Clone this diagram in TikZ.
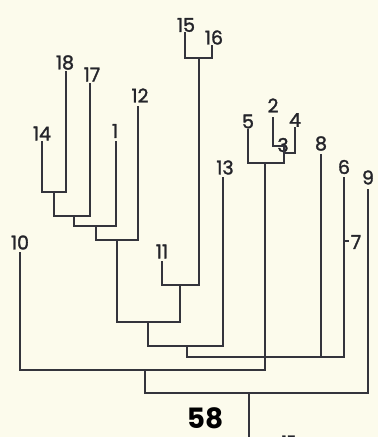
\documentclass[tikz,border=0pt]{standalone}
\usepackage{fontspec}
\setmainfont{Poppins}
\newfontfamily\labfont[FakeBold=1.6]{Poppins}
\definecolor{paper}{RGB}{252,251,236}
\definecolor{ink}{RGB}{52,52,60}
\begin{document}
\begin{tikzpicture}[x=1pt,y=-1pt,
  branch/.style={draw=ink,line width=2pt,line cap=rect},
  lab/.style={inner sep=0pt,text=ink!70!black,font=\labfont\fontsize{19}{19}\selectfont},
  biglab/.style={inner sep=0pt,text=black,font=\fontsize{28}{28}\selectfont\bfseries}]
\fill[paper] (0,0) rectangle (378,437);
\useasboundingbox (0,0) rectangle (378,437);
% leaf tops
\coordinate (t14) at (42,142);
\coordinate (t18) at (66,72);
\coordinate (t17) at (90,84);
\coordinate (t1) at (116,142);
\coordinate (t12) at (138,107);
\coordinate (t15) at (185,33);
\coordinate (t16) at (212,46);
\coordinate (t11) at (162,262);
\coordinate (t13) at (223,178);
\coordinate (t5) at (248,130);
\coordinate (t2) at (273,118);
\coordinate (t4) at (295,128);
\coordinate (t8) at (321,155);
\coordinate (t6) at (344,178);
\coordinate (t9) at (368,190);
\coordinate (t10) at (20,253);
% junctions
\coordinate (n1) at (54,192);
\coordinate (n2) at (74,216);
\coordinate (n3) at (96,226);
\coordinate (n4) at (117,240);
\coordinate (n5) at (199,58);
\coordinate (n6) at (180,285);
\coordinate (n7) at (148,322);
\coordinate (n8) at (187,346);
\coordinate (n9) at (284,146);
\coordinate (n10) at (284,153);
\coordinate (n11) at (284,163);
\coordinate (n12) at (265,163);
\coordinate (n13) at (265,357);
\coordinate (n15) at (265,370);
\coordinate (n16) at (145,370);
\coordinate (n17) at (249,393);
\coordinate (rootend) at (249,440);
\coordinate (tick7) at (348,241);
% labels
\node[lab] (L14) at (42,133.5) {14};
\node[lab] (L18) at (65,62.5) {18};
\node[lab] (L17) at (92,74.5) {17};
\node[lab] (L1) at (115,131) {1};
\node[lab] (L12) at (140,95.5) {12};
\node[lab] (L15) at (186,25) {15};
\node[lab] (L16) at (214,37.5) {16};
\node[lab] (L13) at (225,167.5) {13};
\node[lab] (L5) at (248,121.5) {5};
\node[lab] (L2) at (273,105.5) {2};
\node[lab] (L4) at (295,120) {4};
\node[lab] (L3) at (283,145) {3};
\node[lab] (L8) at (321,143.5) {8};
\node[lab] (L6) at (344,167) {6};
\node[lab] (L9) at (368,177.5) {9};
\node[lab] (L10) at (20,242.5) {10};
\node[lab] (L11) at (162,251.5) {11};
\node[lab] (L7) at (356,242) {7};
\node[biglab] (L58) at (205,418) {58};
\node[lab,font=\labfont\fontsize{15}{15}\selectfont] (Lb15) at (289,441) {15};
% branches
\draw[branch] (t14) |- (n1) -| (t18);
\draw[branch] (n1) |- (n2) -| (t17);
\draw[branch] (n2) |- (n3) -| (t1);
\draw[branch] (n3) |- (n4) -| (t12);
\draw[branch] (t15) |- (n5) -| (t16);
\draw[branch] (t11) |- (n6) -| (n5);
\draw[branch] (n4) |- (n7) -| (n6);
\draw[branch] (n7) |- (n8) -| (t13);
\draw[branch] (t2) |- (n9) -- (n11);
\draw[branch] (n10) -| (t4);
\draw[branch] (t5) |- (n11);
\draw[branch] (n12) -- (n15);
\draw[branch] (n8) |- (n13) -| (t6);
\draw[branch] (t8) -- (t8 |- n13);
\draw[branch] (t10) |- (n16) -| (n15);
\draw[branch] (n16) |- (n17) -| (t9);
\draw[branch] (n17) -- (rootend);
\draw[branch,line width=1.4pt] (t6 |- tick7) -- (tick7);
\end{tikzpicture}
\end{document}
